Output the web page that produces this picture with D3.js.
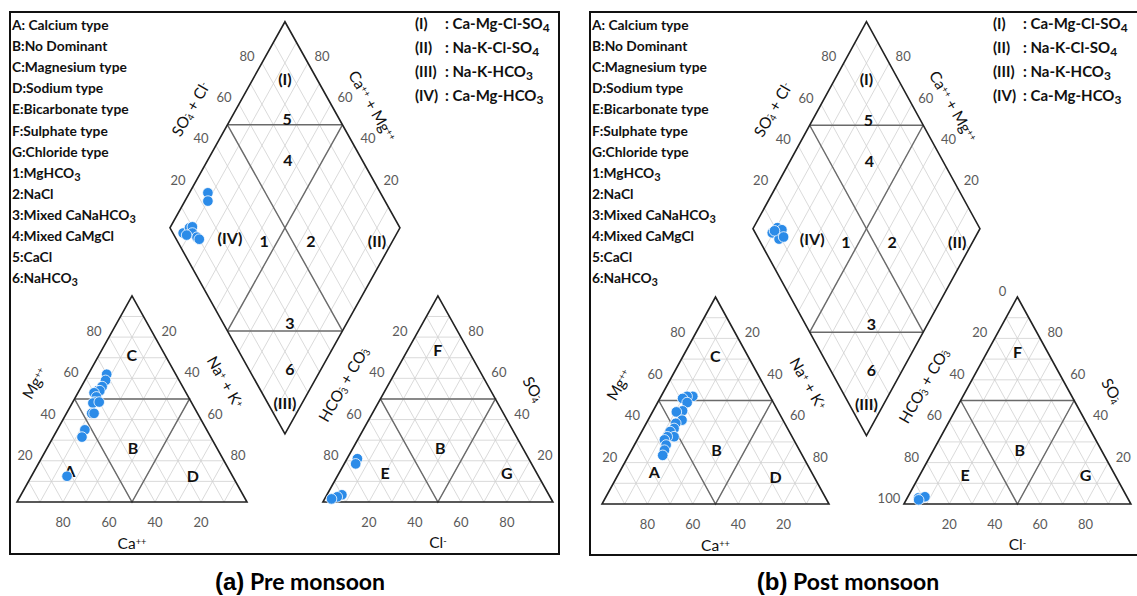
<!DOCTYPE html>
<title>Piper diagrams - pre and post monsoon</title>
<style type="text/css">
	body { margin: 0; background: #fff; }
	text { font-family: Lato, "Open Sans", sans-serif; }
	.frame { fill: none; stroke: #111; stroke-width: 2px; }
	.grid { fill: none; stroke: #d0d0d0; stroke-width: 0.8px; }
	.divide { fill: none; stroke: #6a6a6a; stroke-width: 1.4px; }
	.outline { fill: none; stroke: #222; stroke-width: 1.6px; }
	.tick { fill: #5a5a5a; font-size: 13px; }
	.title { fill: #111; font-size: 15.5px; }
	.zone { fill: #111; font-size: 16px; font-weight: bold; }
	.legend { fill: #111; font-size: 13.8px; font-weight: bold; }
	.facies { fill: #111; font-size: 15px; font-weight: bold; }
	.pt { fill: #2b8be8; stroke: #fff; stroke-width: 0.8px; }
</style>
<body>
<script src="https://d3js.org/d3.v7.min.js"></script>
<script type="text/javascript">
	// ---- data (percent of meq/l) ----
	const ticks = [20, 40, 60, 80];
	const postHco3Ticks = [0, 20, 40, 60, 80, 100];

	// (a) pre monsoon
	const preCa = [30, 32, 35, 38, 37, 40, 40, 42, 43, 40, 46, 45, 53, 56, 72];
	const preMg = [62, 59, 56, 54, 54, 53, 51, 48.5, 48, 48.5, 43, 43, 35, 31.5, 12.5];
	const preSO4 = [21, 18.5, 3.5, 2.5, 1.5];
	const preCl = [4.5, 5, 6.5, 5, 3];
	const preDiaSO4Cl = [25, 23, 4.5, 8.5, 10, 8.5, 9.5, 10, 5.5];
	const preDiaCaMg = [92, 90, 93, 91.5, 90.5, 89, 86, 84.5, 91];

	// (b) post monsoon
	const postCa = [34, 36.5, 39, 38, 42, 45, 44.5, 48, 50, 52.5, 52, 55, 57, 57.5, 59.5, 61.5];
	const postMg = [52, 52, 51, 49, 45, 44.5, 40.5, 39, 36.5, 35, 32.5, 32.5, 31, 28.5, 26, 23.5];
	const postSO4 = [3, 3, 3.5, 2];
	const postCl = [5, 6.5, 7.5, 5.5];
	const postDiaSO4Cl = [7.5, 11, 12.5, 9, 11.5, 9];
	const postDiaCaMg = [90.5, 89.5, 87, 86, 84.5, 90];

	const typeLegend = [
		['A: Calcium type'], ['B:No Dominant'], ['C:Magnesium type'], ['D:Sodium type'],
		['E:Bicarbonate type'], ['F:Sulphate type'], ['G:Chloride type'],
		['1:MgHCO', '3'], ['2:NaCl'], ['3:Mixed CaNaHCO', '3'], ['4:Mixed CaMgCl'],
		['5:CaCl'], ['6:NaHCO', '3']
	];
	const faciesLegend = [
		['(I)', ': Ca-Mg-Cl-SO', '4'], ['(II)', ': Na-K-Cl-SO', '4'],
		['(III)', ': Na-K-HCO', '3'], ['(IV)', ': Ca-Mg-HCO', '3']
	];

	// ---- piper geometry, triangle side = 100 units ----
	const GAP = 33;
	const H = Math.sqrt(3) / 2;
	const DX = 100 + GAP / 2, DY = GAP * H;

	function catPos(ca, mg) { const na = 100 - ca - mg; return [na + mg / 2, mg * H]; }
	function anPos(so4, cl) { return [100 + GAP + cl + so4 / 2, so4 * H]; }
	function diaPos(caMg, so4cl) { return [DX + (so4cl - caMg) / 2, DY + (so4cl + caMg) * H]; }

	const svg = d3.select('body').append('svg')
		.attr('width', 1137)
		.attr('height', 596);

	// text with sub / superscripts: parts = [[text, kind], ...]
	// 'subx' is a subscript stacked under the superscript before it
	function rich(sel, parts) {
		parts.forEach(p => {
			const t = sel.append('tspan').text(p[0]);
			if (p[1] === 'sub') t.attr('baseline-shift', '-25%').attr('font-size', '80%');
			if (p[1] === 'subx') t.attr('baseline-shift', '-20%').attr('font-size', '60%').attr('dx', -4);
			if (p[1] === 'sup') t.attr('baseline-shift', '45%').attr('font-size', '60%');
		});
		return sel;
	}

	function drawPanel(p) {
		const x = d3.scaleLinear().domain([0, 233]).range([p.x0, p.x0 + 233 * p.kx]);
		const y = d3.scaleLinear().domain([0, 202]).range([p.y0, p.y0 - 202 * p.ky]);
		const line = d3.line().x(d => x(d[0])).y(d => y(d[1]));
		const g = svg.append('g');

		g.append('rect')
			.attr('class', 'frame')
			.attr('x', p.fx).attr('y', 12)
			.attr('width', p.fw).attr('height', p.fh);

		// light grid every 10%
		const grid = [];
		d3.range(10, 100, 10).forEach(k => {
			grid.push([catPos(100 - k, k), catPos(0, k)]);
			grid.push([catPos(k, 0), catPos(k, 100 - k)]);
			grid.push([catPos(100 - k, 0), catPos(0, 100 - k)]);
			grid.push([anPos(k, 0), anPos(k, 100 - k)]);
			grid.push([anPos(0, k), anPos(100 - k, k)]);
			grid.push([anPos(0, 100 - k), anPos(100 - k, 0)]);
			grid.push([diaPos(k, 0), diaPos(k, 100)]);
			grid.push([diaPos(0, k), diaPos(100, k)]);
		});
		g.selectAll('.grid').data(grid).enter()
			.append('path').attr('class', 'grid').attr('d', line);

		// facies boundaries
		const divisions = [
			[catPos(50, 50), catPos(0, 50), catPos(50, 0), catPos(50, 50)],
			[anPos(50, 0), anPos(50, 50), anPos(0, 50), anPos(50, 0)],
			[diaPos(100, 50), diaPos(0, 50)],
			[diaPos(50, 100), diaPos(50, 0)],
			[diaPos(100, 50), diaPos(50, 100)],
			[diaPos(50, 0), diaPos(0, 50)]
		];
		g.selectAll('.divide').data(divisions).enter()
			.append('path').attr('class', 'divide').attr('d', line);

		const outlines = [
			[catPos(100, 0), catPos(0, 0), catPos(0, 100), catPos(100, 0)],
			[anPos(0, 0), anPos(0, 100), anPos(100, 0), anPos(0, 0)],
			[diaPos(0, 0), diaPos(100, 0), diaPos(100, 100), diaPos(0, 100), diaPos(0, 0)]
		];
		g.selectAll('.outline').data(outlines).enter()
			.append('path').attr('class', 'outline').attr('d', d => line(d) + 'Z');

		// tick labels
		const tickSets = [
			{ vals: ticks, at: v => catPos(100 - v, v), dx: -15, dy: -6 },
			{ vals: ticks, at: v => catPos(0, 100 - v), dx: 14, dy: -6 },
			{ vals: ticks, at: v => catPos(v, 0), dx: 0, dy: 20 },
			{ vals: p.hco3Ticks, at: v => anPos(100 - v, 0), dx: -15, dy: -6 },
			{ vals: ticks, at: v => anPos(v, 100 - v), dx: 15, dy: -6 },
			{ vals: ticks, at: v => anPos(0, v), dx: 0, dy: 20 },
			{ vals: ticks, at: v => diaPos(100, v), dx: -15, dy: -7 },
			{ vals: ticks, at: v => diaPos(v, 100), dx: 14, dy: -7 }
		];
		tickSets.forEach(s => {
			g.selectAll(null).data(s.vals).enter()
				.append('text')
				.attr('class', 'tick')
				.attr('text-anchor', 'middle')
				.attr('dominant-baseline', 'central')
				.attr('x', v => x(s.at(v)[0]) + s.dx)
				.attr('y', v => y(s.at(v)[1]) + s.dy)
				.text(v => v);
		});

		// axis titles
		const titles = [
			{ at: catPos(50, 50), dx: -35, dy: -18, rot: -60, parts: [['Mg'], ['++', 'sup']] },
			{ at: catPos(0, 50), dx: 31, dy: -19, rot: 60, parts: [['Na'], ['+', 'sup'], [' + K'], ['+', 'sup']] },
			{ at: catPos(50, 0), dx: 0, dy: 42, rot: 0, parts: [['Ca'], ['++', 'sup']] },
			{ at: anPos(50, 0), dx: -32, dy: -17, rot: -60, parts: [['HCO'], ['-', 'sup'], ['3', 'subx'], [' + CO'], ['-', 'sup'], ['3', 'subx']] },
			{ at: anPos(50, 50), dx: 33, dy: -12, rot: 60, parts: [['SO'], ['-', 'sup'], ['4', 'subx']] },
			{ at: anPos(0, 50), dx: 0, dy: 41, rot: 0, parts: [['Cl'], ['-', 'sup']] },
			{ at: diaPos(100, 50), dx: -32, dy: -18, rot: -60, parts: [['SO'], ['-', 'sup'], ['4', 'subx'], [' + Cl'], ['-', 'sup']] },
			{ at: diaPos(50, 100), dx: 25, dy: -21, rot: 60, parts: [['Ca'], ['++', 'sup'], [' + Mg'], ['++', 'sup']] }
		];
		titles.forEach(t => {
			const tx = x(t.at[0]) + t.dx, ty = y(t.at[1]) + t.dy;
			rich(g.append('text')
				.attr('class', 'title')
				.attr('text-anchor', 'middle')
				.attr('transform', `translate(${tx},${ty + 5}) rotate(${t.rot})`), t.parts);
		});

		// zone letters and numbers
		const zones = [
			['A', 23, 13.4], ['B', 50.4, 22.7], ['C', 49.9, 62], ['D', 76.5, 11.3],
			['E', 160, 12.2], ['B', 184, 23], ['F', 183, 64], ['G', 213, 12.2],
			['(I)', 116.5, 178], ['5', 117.4, 161], ['4', 117.8, 143.7],
			['(IV)', 92.6, 111], ['1', 107.4, 109.7], ['2', 127.8, 109.7], ['(II)', 156.5, 110],
			['3', 118.7, 75.6], ['6', 118.7, 56.3], ['(III)', 116.5, 42]
		];
		g.selectAll('.zone').data(zones).enter()
			.append('text')
			.attr('class', 'zone')
			.attr('text-anchor', 'middle')
			.attr('dominant-baseline', 'central')
			.attr('x', d => x(d[1]))
			.attr('y', d => y(d[2]))
			.text(d => d[0]);

		// samples
		const pts = []
			.concat(p.ca.map((c, i) => catPos(c, p.mg[i])))
			.concat(p.so4.map((s, i) => anPos(s, p.cl[i])))
			.concat(p.diaS.map((s, i) => diaPos(p.diaC[i], s)));
		g.selectAll('.pt').data(pts).enter()
			.append('circle')
			.attr('class', 'pt')
			.attr('r', 5.3)
			.attr('cx', d => x(d[0]))
			.attr('cy', d => y(d[1]));

		// legends
		typeLegend.forEach((row, i) => {
			const parts = [[row[0]]];
			if (row[1]) parts.push([row[1], 'sub']);
			rich(g.append('text')
				.attr('class', 'legend')
				.attr('x', p.fx + 2)
				.attr('y', 30 + i * 21.1), parts);
		});
		faciesLegend.forEach((row, i) => {
			const ty = 29 + i * 24;
			g.append('text').attr('class', 'facies').attr('x', p.lx).attr('y', ty).text(row[0]);
			rich(g.append('text').attr('class', 'facies').attr('x', p.lx + 30).attr('y', ty),
				[[row[1]], [row[2], 'sub']]);
		});

		// caption
		const cap = g.append('text')
			.attr('text-anchor', 'middle')
			.attr('x', p.capX)
			.attr('y', 590)
			.style('font-weight', 'bold');
		cap.append('tspan').text(p.capTag).style('font-family', '"Liberation Sans", Arial, sans-serif').style('font-size', '24px');
		cap.append('tspan').text(' ' + p.capText).style('font-size', '23px');
	}

	drawPanel({
		x0: 17, kx: 2.3, y0: 502, ky: 2.38, fx: 10, fw: 549, fh: 542, lx: 415,
		ca: preCa, mg: preMg, so4: preSO4, cl: preCl, diaS: preDiaSO4Cl, diaC: preDiaCaMg,
		hco3Ticks: ticks, capX: 300, capTag: '(a)', capText: 'Pre monsoon'
	});
	drawPanel({
		x0: 602, kx: 2.27, y0: 504, ky: 2.39, fx: 590, fw: 570, fh: 543, lx: 993,
		ca: postCa, mg: postMg, so4: postSO4, cl: postCl, diaS: postDiaSO4Cl, diaC: postDiaCaMg,
		hco3Ticks: postHco3Ticks, capX: 848, capTag: '(b)', capText: 'Post monsoon'
	});
</script>
</body>
